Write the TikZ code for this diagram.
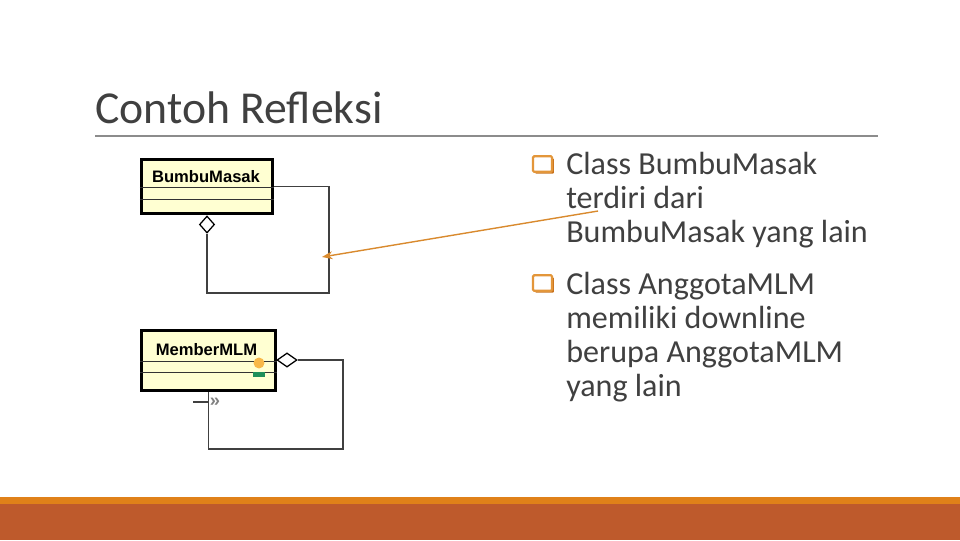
\documentclass[tikz,border=0pt]{standalone}
\usepackage{fontspec}
\setmainfont{Carlito}
\newfontfamily\umlfont{Liberation Sans}
\usetikzlibrary{arrows.meta, positioning, shapes.geometric, calc, shadows}

\definecolor{textgray}{HTML}{404040}
\definecolor{rulegray}{HTML}{8C8C8C}
\definecolor{bandorange}{HTML}{E08119}
\definecolor{banddark}{HTML}{BE5A2C}
\definecolor{bulletorange}{HTML}{E3963A}
\definecolor{bulletshade}{HTML}{C9721C}
\definecolor{classfill}{HTML}{FFFFD2}
\definecolor{notecolor}{HTML}{D98A2E}
\definecolor{attrdot}{HTML}{F8B849}
\definecolor{operbar}{HTML}{1F8F5A}

\begin{document}
\begin{tikzpicture}[x=0.025cm, y=-0.025cm,
    umlclass/.style={draw=black, line width=2.1pt, fill=classfill,
                     inner sep=0pt},
    umlname/.style={font=\umlfont\bfseries\fontsize{11.8}{13}\selectfont,
                    anchor=base, inner sep=0pt},
    compline/.style={draw=black!80, line width=0.9pt},
    assoc/.style={draw=black!75, line width=0.9pt},
    aggdiamond/.style={diamond, draw=black, line width=0.9pt, fill=white,
                       inner sep=0pt},
    bulletbox/.style={draw=bulletorange, line width=1.6pt, fill=white,
                      minimum width=13.5pt, minimum height=11pt, inner sep=0pt,
                      rounded corners=0.8pt,
                      drop shadow={fill=bulletshade, opacity=1,
                                   shadow xshift=1.4pt, shadow yshift=-1.4pt}},
    point/.style={font=\fontsize{22.8}{24.2}\selectfont, text=textgray,
                  align=left, anchor=north west, inner sep=0pt},
    >=Stealth
  ]
  \useasboundingbox (0,0) rectangle (960,540);
  \fill[white] (0,0) rectangle (960,540);

  % slide frame
  \fill[bandorange] (0,497) rectangle (960,504);
  \fill[banddark] (0,504) rectangle (960,540);
  \node[font=\fontsize{32.5}{36}\selectfont, text=textgray, anchor=base west,
        inner sep=0pt] (title) at (95,123) {Contoh Refleksi};
  \draw[rulegray, line width=0.8pt] (95,136) -- (878,136);

  % bullet points
  \node[bulletbox] (bulletA) at (542.5,164) {};
  \node[point] (pointA) at (566,152) {Class BumbuMasak\\terdiri dari\\BumbuMasak yang lain};
  \node[bulletbox] (bulletB) at (542.5,283) {};
  \node[point] (pointB) at (566,272) {Class AnggotaMLM\\memiliki downline\\berupa AnggotaMLM\\yang lain};

  % class BumbuMasak
  \node[umlclass, minimum width=93.2pt, minimum height=38.4pt] (bumbu) at (207,186.5) {};
  \node[umlname] (bumbuName) at (206,182) {BumbuMasak};
  \foreach \dy in {29.5,41.5}
    \draw[compline] ($(bumbu.north west)+(0,\dy)$) -- ($(bumbu.north east)+(0,\dy)$);
  \node[aggdiamond, minimum width=10.7pt, minimum height=12.1pt] (bumbuAgg) at (207,224.5) {};
  \coordinate (bumbuLoop) at (329,293);
  \draw[assoc] (bumbu.east) -| (bumbuLoop) -| (bumbuAgg.south);

  % class MemberMLM
  \node[umlclass, minimum width=95.3pt, minimum height=42.7pt] (member) at (208.5,360.5) {};
  \node[umlname] (memberName) at (206.5,355) {MemberMLM};
  \foreach \dy in {32.5,43.5}
    \draw[compline] ($(member.north west)+(0,\dy)$) -- ($(member.north east)+(0,\dy)$);
  \node[circle, fill=attrdot, minimum size=7.8pt, inner sep=0pt] (memberAttr) at (259,363) {};
  \node[rectangle, fill=operbar, minimum width=8.5pt, minimum height=3.6pt,
        inner sep=0pt] (memberOper) at (259,374.5) {};
  \node[aggdiamond, minimum width=14.2pt, minimum height=10pt] (memberAgg) at (287,360) {};
  \coordinate (memberLoop) at (343,449);
  \draw[assoc] (memberAgg.east) -| (memberLoop) -| (member.south);
  \coordinate (memberStub) at (193,402);
  \draw[assoc] (memberStub) -- (memberStub -| member.south);
  \node[font=\umlfont\bfseries\fontsize{13}{14}\selectfont, text=black!50,
        inner sep=0pt] (memberNav) at (215,402) {»};

  % note arrow
  \coordinate (noteTip) at (598,211);
  \coordinate (noteTarget) at (322,257);
  \draw[->, notecolor, line width=1pt] (noteTip) -- (noteTarget);
\end{tikzpicture}
\end{document}
